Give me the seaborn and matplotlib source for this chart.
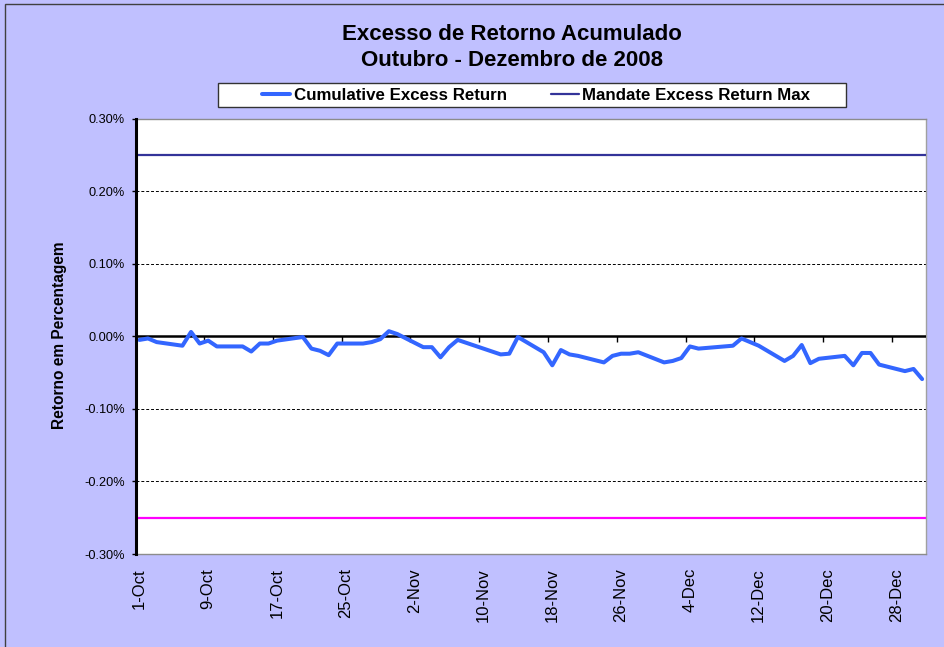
import pandas as pd
import numpy as np
import matplotlib
matplotlib.use('Agg')
import matplotlib.pyplot as plt
import matplotlib.dates as mdates
import matplotlib.ticker as mticker
from matplotlib.patches import Rectangle
import seaborn as sns

# Daily cumulative excess return (%), weekdays Oct - Dec 2008
oct_days = ['2008-10-01', '2008-10-02', '2008-10-03',
            '2008-10-06', '2008-10-07', '2008-10-08', '2008-10-09', '2008-10-10',
            '2008-10-13', '2008-10-14', '2008-10-15', '2008-10-16', '2008-10-17',
            '2008-10-20', '2008-10-21', '2008-10-22', '2008-10-23', '2008-10-24',
            '2008-10-27', '2008-10-28', '2008-10-29', '2008-10-30', '2008-10-31']
oct_vals = [-0.005, -0.003, -0.008,
            -0.013, 0.006, -0.010, -0.006, -0.014,
            -0.014, -0.021, -0.010, -0.010, -0.006,
            -0.001, -0.017, -0.020, -0.026, -0.010,
            -0.010, -0.008, -0.004, 0.007, 0.003]

nov_days = ['2008-11-03', '2008-11-04', '2008-11-05', '2008-11-06', '2008-11-07',
            '2008-11-10', '2008-11-11', '2008-11-12', '2008-11-13', '2008-11-14',
            '2008-11-17', '2008-11-18', '2008-11-19', '2008-11-20', '2008-11-21',
            '2008-11-24', '2008-11-25', '2008-11-26', '2008-11-27', '2008-11-28']
nov_vals = [-0.015, -0.015, -0.029, -0.015, -0.005,
            -0.017, -0.021, -0.025, -0.024, -0.001,
            -0.022, -0.040, -0.019, -0.025, -0.027,
            -0.036, -0.027, -0.024, -0.024, -0.022]

dec_days = ['2008-12-01', '2008-12-02', '2008-12-03', '2008-12-04', '2008-12-05',
            '2008-12-08', '2008-12-09', '2008-12-10', '2008-12-11', '2008-12-12',
            '2008-12-15', '2008-12-16', '2008-12-17', '2008-12-18', '2008-12-19',
            '2008-12-22', '2008-12-23', '2008-12-24', '2008-12-25', '2008-12-26',
            '2008-12-29', '2008-12-30', '2008-12-31']
dec_vals = [-0.036, -0.034, -0.030, -0.014, -0.017,
            -0.014, -0.013, -0.003, -0.008, -0.013,
            -0.034, -0.027, -0.012, -0.037, -0.031,
            -0.027, -0.040, -0.023, -0.023, -0.039,
            -0.048, -0.045, -0.059]

mandate_max = 0.25
mandate_min = -0.25

tick_days = ['2008-10-01', '2008-10-09', '2008-10-17', '2008-10-25',
             '2008-11-02', '2008-11-10', '2008-11-18', '2008-11-26',
             '2008-12-04', '2008-12-12', '2008-12-20', '2008-12-28']
y_ticks = [-0.30, -0.20, -0.10, 0.00, 0.10, 0.20, 0.30]

df = pd.DataFrame({
    'date': pd.to_datetime(oct_days + nov_days + dec_days),
    'excess': oct_vals + nov_vals + dec_vals,
})

sns.set_style('white')
plt.rcParams['font.family'] = ['Liberation Sans', 'DejaVu Sans']
plt.rcParams['text.color'] = 'black'
plt.rcParams['axes.labelcolor'] = 'black'
plt.rcParams['xtick.color'] = 'black'
plt.rcParams['ytick.color'] = 'black'

bg = '#C0C0FF'
fig = plt.figure(figsize=(9.45, 6.47), dpi=100, facecolor=bg)
ax = fig.add_axes([0.1439, 0.1437, 0.8360, 0.6731])
ax.set_facecolor('white')

sns.lineplot(data=df, x='date', y='excess', ax=ax, color='#3366FF', lw=2.9,
             label='Cumulative Excess Return', zorder=5)
if ax.get_legend() is not None:
    ax.get_legend().remove()
h_max = ax.axhline(mandate_max, color='#333399', lw=1.6, label='Mandate Excess Return Max', zorder=4)
ax.axhline(mandate_min, color='#FF00FF', lw=1.6, zorder=4)
ax.axhline(0, color='black', lw=1.8, zorder=3)

# axes ranges
ticks = pd.to_datetime(tick_days)
x0 = mdates.date2num(df['date'].iloc[0]) - 0.4
x1 = mdates.date2num(df['date'].iloc[-1]) + 0.45
ax.set_xlim(x0, x1)
ax.set_ylim(-0.30, 0.30)

ax.set_xticks(mdates.date2num(ticks))
ax.set_xticklabels([f"{d.day}-{d.strftime('%b')}" for d in ticks], rotation=90, fontsize=12)
ax.set_yticks(y_ticks)
ax.yaxis.set_major_formatter(mticker.FuncFormatter(lambda v, p: f'{v:.2f}%'))
ax.tick_params(axis='y', direction='out', length=3, width=1, color='black', labelsize=9.2, pad=5, left=True)
ax.tick_params(axis='x', length=0, pad=10)
ax.set_xlabel('')
ax.set_ylabel('')

ax.yaxis.grid(True, color='black', linestyle=(0, (3, 2)), lw=0.7)
ax.xaxis.grid(False)
for t in ax.yaxis.get_major_ticks():
    if abs(abs(t.get_loc()) - 0.30) < 1e-9:
        t.gridline.set_visible(False)

ax.spines['left'].set_color('black')
ax.spines['left'].set_linewidth(2.2)
ax.spines['left'].set_zorder(6)
for s in ['top', 'bottom']:
    ax.spines[s].set_color('#8C8C8C')
    ax.spines[s].set_linewidth(1.0)
    ax.spines[s].set_linestyle((0, (2, 1)))
ax.spines['right'].set_color('#A0A0A0')
ax.spines['right'].set_linewidth(1.0)

# small tick marks on the zero line, between the labelled dates
sec = ax.secondary_xaxis(0.5)
sec.set_xticks(mdates.date2num(ticks[1:]) - 0.5)
sec.tick_params(axis='x', direction='in', length=4, width=1, color='black',
                top=True, bottom=False, labeltop=False, labelbottom=False)
for s in sec.spines.values():
    s.set_visible(False)

# legend: frame drawn separately (below everything) so the box matches the original width
fig.patches.append(Rectangle((218 / 945, 1 - 107 / 647), 628 / 945, 24 / 647,
                             transform=fig.transFigure, facecolor='white',
                             edgecolor='#333333', lw=1.0, zorder=-1))
handles = [ax.get_lines()[0], h_max]
leg = fig.legend(handles=handles, labels=['Cumulative Excess Return', 'Mandate Excess Return Max'],
                 bbox_to_anchor=(262 / 945, 1 - 95 / 647), bbox_transform=fig.transFigure,
                 loc='center left', ncol=2, borderaxespad=0, borderpad=0, frameon=False,
                 prop={'weight': 'bold', 'size': 12.2},
                 handlelength=1.68, handletextpad=0.18, columnspacing=2.6)
leg.set_zorder(10)

fig.text(512 / 945, 1 - 35 / 647, 'Excesso de Retorno Acumulado', ha='center', va='center',
         fontsize=16, fontweight='bold')
fig.text(512 / 945, 1 - 60 / 647, 'Outubro - Dezembro de 2008', ha='center', va='center',
         fontsize=16, fontweight='bold')
fig.text(60 / 945, 1 - 335 / 647, 'Retorno em Percentagem', rotation=90, ha='center', va='center',
         fontsize=11.2, fontweight='bold')

# chart border (cut off at right/bottom like the original)
fig.patches.append(Rectangle((5.5 / 945, -0.05), 1.2, 1 - 3.5 / 647 + 0.05, transform=fig.transFigure,
                             fill=False, edgecolor='#404040', lw=1.0, zorder=-2))

fig.savefig('out.png', dpi=100, facecolor=bg)
